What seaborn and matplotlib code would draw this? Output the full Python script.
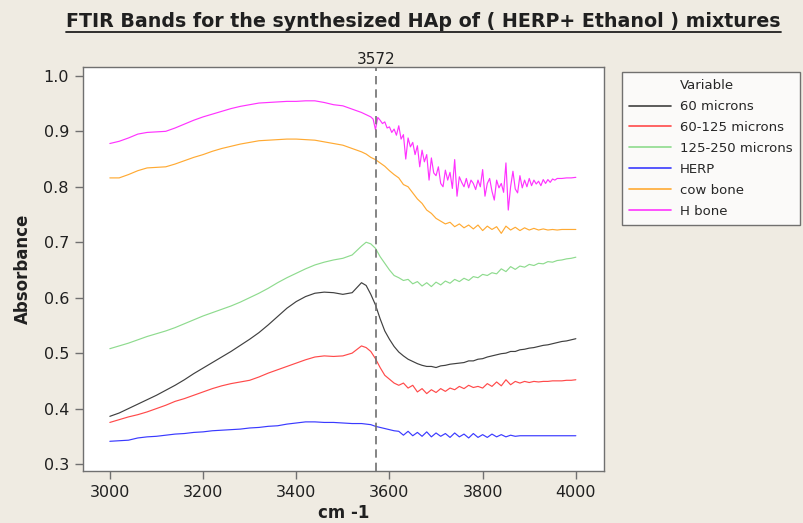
import matplotlib
matplotlib.use("Agg")
import matplotlib.pyplot as plt
from matplotlib.lines import Line2D
import pandas as pd
import seaborn as sns

# wavenumber grid (coarse on the smooth part, finer where the bands get noisy)
WAVENUMBER = list(range(3000, 3541, 20)) + list(range(3550, 4001, 10))
# the H bone trace is much noisier, so it is read at a finer step
WAVENUMBER_H = list(range(3000, 3541, 20)) + list(range(3550, 3961, 5)) + [3970, 3980, 3990, 4000]

MICRONS_60 = [
    0.386, 0.392, 0.400, 0.408, 0.416, 0.424, 0.433, 0.442, 0.452, 0.463,
    0.473, 0.483, 0.493, 0.503, 0.514, 0.525, 0.537, 0.551, 0.566, 0.581,
    0.593, 0.602, 0.608, 0.610, 0.609, 0.606, 0.609, 0.627,
    0.622, 0.606, 0.587, 0.562, 0.540, 0.525, 0.512, 0.502, 0.495, 0.489,
    0.485, 0.481, 0.478, 0.476, 0.476, 0.474, 0.477, 0.478, 0.480, 0.481,
    0.482, 0.483, 0.486, 0.486, 0.489, 0.490, 0.493, 0.495, 0.497, 0.499,
    0.500, 0.503, 0.503, 0.506, 0.507, 0.509, 0.510, 0.512, 0.514, 0.515,
    0.517, 0.519, 0.521, 0.522, 0.524, 0.526,
]
MICRONS_60_125 = [
    0.375, 0.380, 0.385, 0.389, 0.394, 0.400, 0.406, 0.413, 0.418, 0.424,
    0.430, 0.436, 0.441, 0.445, 0.448, 0.451, 0.457, 0.464, 0.470, 0.476,
    0.482, 0.488, 0.493, 0.495, 0.494, 0.495, 0.500, 0.513,
    0.510, 0.503, 0.490, 0.474, 0.460, 0.453, 0.446, 0.442, 0.446, 0.437,
    0.442, 0.430, 0.436, 0.427, 0.434, 0.429, 0.436, 0.431, 0.437, 0.434,
    0.440, 0.436, 0.442, 0.438, 0.440, 0.437, 0.445, 0.440, 0.448, 0.441,
    0.452, 0.443, 0.449, 0.446, 0.449, 0.447, 0.449, 0.448, 0.449, 0.449,
    0.450, 0.450, 0.450, 0.451, 0.451, 0.452,
]
MICRONS_125_250 = [
    0.508, 0.513, 0.518, 0.524, 0.530, 0.535, 0.540, 0.546, 0.553, 0.560,
    0.567, 0.573, 0.579, 0.585, 0.592, 0.600, 0.608, 0.617, 0.627, 0.636,
    0.644, 0.652, 0.659, 0.664, 0.668, 0.671, 0.677, 0.693,
    0.700, 0.697, 0.689, 0.674, 0.662, 0.650, 0.640, 0.636, 0.631, 0.633,
    0.625, 0.629, 0.621, 0.627, 0.620, 0.628, 0.623, 0.630, 0.626, 0.633,
    0.629, 0.635, 0.631, 0.638, 0.636, 0.642, 0.640, 0.645, 0.643, 0.652,
    0.647, 0.656, 0.651, 0.657, 0.655, 0.660, 0.658, 0.662, 0.661, 0.665,
    0.664, 0.667, 0.668, 0.670, 0.671, 0.673,
]
HERP = [
    0.341, 0.342, 0.343, 0.347, 0.349, 0.350, 0.352, 0.354, 0.355, 0.357,
    0.358, 0.360, 0.361, 0.362, 0.363, 0.365, 0.366, 0.368, 0.369, 0.372,
    0.374, 0.376, 0.376, 0.375, 0.375, 0.374, 0.373, 0.373,
    0.372, 0.371, 0.368, 0.366, 0.364, 0.362, 0.360, 0.359, 0.352, 0.359,
    0.351, 0.357, 0.350, 0.358, 0.349, 0.356, 0.350, 0.355, 0.348, 0.356,
    0.349, 0.354, 0.347, 0.355, 0.348, 0.353, 0.348, 0.354, 0.349, 0.353,
    0.349, 0.352, 0.350, 0.351, 0.351, 0.351, 0.351, 0.351, 0.351, 0.351,
    0.351, 0.351, 0.351, 0.351, 0.351, 0.351,
]
COW_BONE = [
    0.816, 0.816, 0.822, 0.829, 0.834, 0.835, 0.836, 0.841, 0.847, 0.853,
    0.858, 0.864, 0.869, 0.873, 0.877, 0.880, 0.883, 0.884, 0.885, 0.886,
    0.886, 0.885, 0.884, 0.881, 0.878, 0.875, 0.869, 0.863,
    0.859, 0.853, 0.849, 0.843, 0.837, 0.829, 0.822, 0.816, 0.804, 0.800,
    0.789, 0.778, 0.770, 0.758, 0.752, 0.743, 0.738, 0.733, 0.736, 0.728,
    0.733, 0.726, 0.731, 0.724, 0.731, 0.721, 0.729, 0.723, 0.728, 0.716,
    0.729, 0.722, 0.727, 0.721, 0.726, 0.722, 0.725, 0.722, 0.724, 0.722,
    0.723, 0.722, 0.723, 0.723, 0.723, 0.723,
]
H_BONE = [
    0.878, 0.882, 0.888, 0.895, 0.898, 0.899, 0.900, 0.906, 0.913, 0.920,
    0.926, 0.931, 0.936, 0.941, 0.945, 0.948, 0.951, 0.952, 0.953, 0.954,
    0.954, 0.955, 0.955, 0.952, 0.948, 0.946, 0.940, 0.934,
    0.930, 0.928, 0.926, 0.922, 0.903, 0.925, 0.920, 0.914, 0.917, 0.906,
    0.908, 0.898, 0.904, 0.893, 0.910, 0.886, 0.894, 0.850, 0.888, 0.872,
    0.880, 0.858, 0.874, 0.836, 0.866, 0.845, 0.858, 0.812, 0.852, 0.825,
    0.820, 0.836, 0.806, 0.800, 0.830, 0.812, 0.826, 0.797, 0.849, 0.783,
    0.818, 0.808, 0.800, 0.815, 0.798, 0.812, 0.806, 0.795, 0.812, 0.800,
    0.831, 0.783, 0.806, 0.815, 0.792, 0.776, 0.812, 0.798, 0.806, 0.790,
    0.843, 0.758, 0.800, 0.828, 0.796, 0.789, 0.820, 0.798, 0.812, 0.800,
    0.815, 0.802, 0.812, 0.805, 0.810, 0.802, 0.813, 0.806, 0.813, 0.808,
    0.814, 0.812, 0.815,
    0.815, 0.816, 0.816, 0.817,
]

SERIES = {
    "60 microns": (WAVENUMBER, MICRONS_60),
    "60-125 microns": (WAVENUMBER, MICRONS_60_125),
    "125-250 microns": (WAVENUMBER, MICRONS_125_250),
    "HERP": (WAVENUMBER, HERP),
    "cow bone": (WAVENUMBER, COW_BONE),
    "H bone": (WAVENUMBER_H, H_BONE),
}
COLORS = {
    "60 microns": "#404040",
    "60-125 microns": "#ff4a4a",
    "125-250 microns": "#8edb8e",
    "HERP": "#3a3aff",
    "cow bone": "#ffaa33",
    "H bone": "#ff33ff",
}
MARKER_X = 3572

frames = []
for name, (xs, vals) in SERIES.items():
    frames.append(pd.DataFrame({"cm -1": xs, "Absorbance": vals, "Variable": name}))
df = pd.concat(frames, ignore_index=True)

sns.set_style("white")
plt.rcParams["font.family"] = ["DejaVu Sans"]

BG = "#efebe2"
fig = plt.figure(figsize=(8.04, 5.23), dpi=100, facecolor=BG)
ax = fig.add_axes([0.103, 0.0994, 0.648, 0.7725])
ax.set_facecolor("white")

sns.lineplot(data=df, x="cm -1", y="Absorbance", hue="Variable", palette=COLORS,
             estimator=None, sort=False, linewidth=0.85, ax=ax, legend=False)

ax.axvline(MARKER_X, color="#707070", linestyle=(0, (5, 3)), linewidth=1.2)
ax.text(MARKER_X, 1.0, str(MARKER_X), transform=ax.get_xaxis_transform(),
        ha="center", va="bottom", fontsize=11, color="#202020")

ax.set_xlim(2942, 4060)
ax.set_ylim(0.2874, 1.016)
ax.set_xticks([3000, 3200, 3400, 3600, 3800, 4000])
ax.set_yticks([0.3, 0.4, 0.5, 0.6, 0.7, 0.8, 0.9, 1.0])
ax.set_yticklabels(["0.3", "0.4", "0.5", "0.6", "0.7", "0.8", "0.9", "1.0"])
ax.tick_params(axis="both", direction="out", length=6, width=1, color="#707070",
               labelsize=11.5, labelcolor="#202020", bottom=True, left=True, pad=4)
for s in ax.spines.values():
    s.set_color("#707070")
    s.set_linewidth(1.0)

ax.set_xlabel("cm -1", fontsize=12, fontweight="bold", color="#202020", labelpad=3)
ax.set_ylabel("Absorbance", fontsize=12, fontweight="bold", color="#202020", labelpad=8)

# legend with the "Variable" heading as a first, handle-less row
handles = [Line2D([], [], color="none")]
labels = ["Variable"]
for name in SERIES:
    handles.append(Line2D([], [], color=COLORS[name], linewidth=1.2))
    labels.append(name)
leg = fig.legend(handles, labels, loc="upper left", bbox_to_anchor=(0.7736, 0.8623),
                 borderaxespad=0.0, fontsize=9.5, frameon=True, fancybox=False,
                 borderpad=0.55, labelspacing=0.6, handlelength=3.2, handletextpad=0.65)
leg.get_frame().set_edgecolor("#505050")
leg.get_frame().set_linewidth(1.0)
leg.get_frame().set_facecolor("white")

title = fig.text(0.527, 0.958, "FTIR Bands for the synthesized HAp of ( HERP+ Ethanol ) mixtures",
                 ha="center", va="center", fontsize=13.7, fontweight="bold", color="#202020")

# underline the title
fig.canvas.draw()
bb = title.get_window_extent()
y_line = bb.y0 - 1
fig.add_artist(Line2D([bb.x0 / fig.bbox.width, bb.x1 / fig.bbox.width],
                      [y_line / fig.bbox.height, y_line / fig.bbox.height],
                      transform=fig.transFigure, color="#202020", linewidth=1.3))

fig.savefig("out.png", dpi=100, facecolor=BG)
